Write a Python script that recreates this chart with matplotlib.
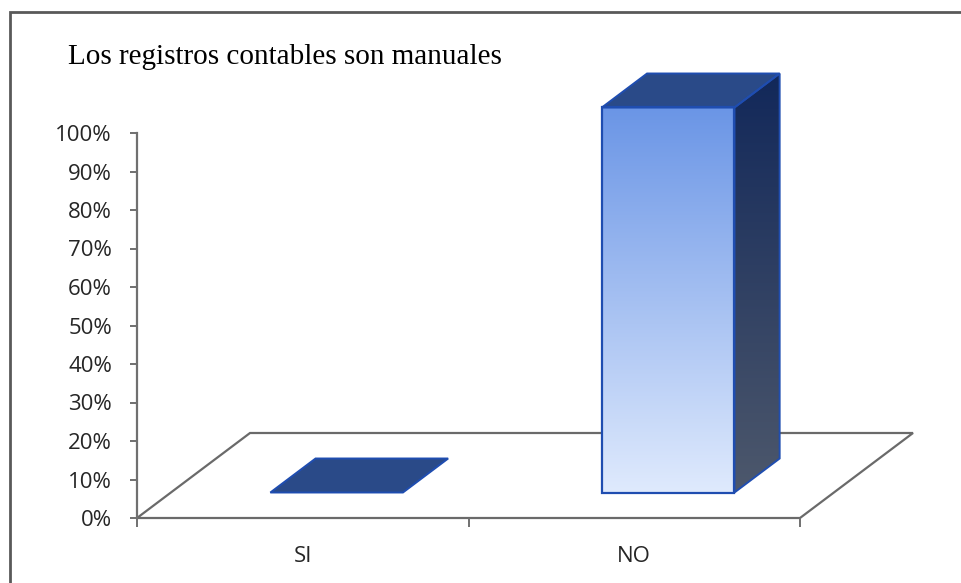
import numpy as np
import matplotlib.pyplot as plt
from matplotlib.patches import Polygon, Rectangle
from matplotlib.colors import LinearSegmentedColormap
from matplotlib.ticker import PercentFormatter

categorias = ['SI', 'NO']
porcentajes = [0, 100]
titulo = 'Los registros contables son manuales'
y_ticks = list(range(0, 101, 10))

W, H = 961, 583
fig = plt.figure(figsize=(W / 100, H / 100), dpi=100)

# pixel layout of the pseudo-3D chart
x0, y0 = 137, 518       # origin of the value axis
cat_px = 331.5          # width of one category on the floor
val_px = 3.85           # pixels per percentage point
depth_px = (113, 85)    # shift from the front to the back edge of the floor

ax = fig.add_axes([x0 / W, (H - y0) / H, (940 - x0) / W, (y0 - 20) / H])
xmax, ymax = (940 - x0) / cat_px, (y0 - 20) / val_px

dx = depth_px[0] / cat_px
dy = depth_px[1] / val_px


def proj(u, v, h):
    # oblique projection: category u, depth v (0..1), value h
    return (u + v * dx, h + v * dy)


def face(pts, **kw):
    p = Polygon([proj(*q) for q in pts], closed=True, **kw)
    ax.add_patch(p)
    return p


def gradient(poly, top, bottom, z):
    # vertical colour ramp clipped to a face
    verts = poly.get_xy()
    cmap = LinearSegmentedColormap.from_list('g', [bottom, top])
    img = ax.imshow(np.linspace(0, 1, 256).reshape(-1, 1), cmap=cmap,
                    extent=(verts[:, 0].min(), verts[:, 0].max(),
                            verts[:, 1].min(), verts[:, 1].max()),
                    origin='lower', aspect='auto', zorder=z,
                    interpolation='bilinear')
    img.set_clip_path(poly)


n = len(categorias)
edge = '#1f4db0'
top_col = '#2a4a88'

# floor
face([(0, 0, 0), (n, 0, 0), (n, 1, 0), (0, 1, 0)], facecolor='white',
     edgecolor='#6a6a6a', lw=1.6, zorder=1, clip_on=False)

v0, v1 = 0.3, 0.7
for i, val in enumerate(porcentajes):
    u0, u1 = i + 0.3, i + 0.7
    if val > 0:
        front = face([(u0, v0, 0), (u1, v0, 0), (u1, v0, val), (u0, v0, val)],
                     facecolor='none', edgecolor='none', zorder=3)
        gradient(front, '#6a95e6', '#dfeafd', 3)
        face([(u0, v0, 0), (u1, v0, 0), (u1, v0, val), (u0, v0, val)],
             facecolor='none', edgecolor=edge, lw=1.6, zorder=5)
        side = face([(u1, v0, 0), (u1, v1, 0), (u1, v1, val), (u1, v0, val)],
                    facecolor='none', edgecolor='none', zorder=3)
        gradient(side, '#12285a', '#4d586c', 3)
        face([(u1, v0, 0), (u1, v1, 0), (u1, v1, val), (u1, v0, val)],
             facecolor='none', edgecolor=edge, lw=1.4, zorder=5)
    face([(u0, v0, val), (u1, v0, val), (u1, v1, val), (u0, v1, val)],
         facecolor=top_col, edgecolor=edge, lw=1.4, zorder=4)

ax.set_xlim(0, xmax)
ax.set_ylim(0, ymax)
ax.patch.set_visible(False)

for s in ['top', 'right', 'bottom']:
    ax.spines[s].set_visible(False)
ax.spines['left'].set_bounds(0, 100)
ax.spines['left'].set_color('#707070')
ax.spines['left'].set_linewidth(1.6)
ax.spines['left'].set_zorder(6)

ax.set_yticks(y_ticks)
ax.yaxis.set_major_formatter(PercentFormatter(decimals=0))
ax.tick_params(axis='y', length=5, width=1.4, color='#707070', pad=13,
               labelsize=16, labelcolor='#262626')

ax.set_xticks([i + 0.5 for i in range(n)])
ax.set_xticklabels(categorias)
ax.set_xticks(range(n + 1), minor=True)
ax.tick_params(axis='x', which='major', length=0, pad=20,
               labelsize=16, labelcolor='#262626')
ax.tick_params(axis='x', which='minor', length=6.5, width=1.4,
               color='#707070')
for lab in ax.get_xticklabels() + ax.get_yticklabels():
    lab.set_family('Open Sans')

fig.text(68 / W, 1 - 64 / H, titulo, family='Liberation Serif',
         fontsize=21, va='baseline', ha='left', color='black')

# chart frame
fig.add_artist(Rectangle((10 / W, -0.1), 1.2, 1 - 12 / H + 0.1,
                         transform=fig.transFigure, fill=False,
                         edgecolor='#595959', lw=2))

fig.savefig('out.png', dpi=100)
